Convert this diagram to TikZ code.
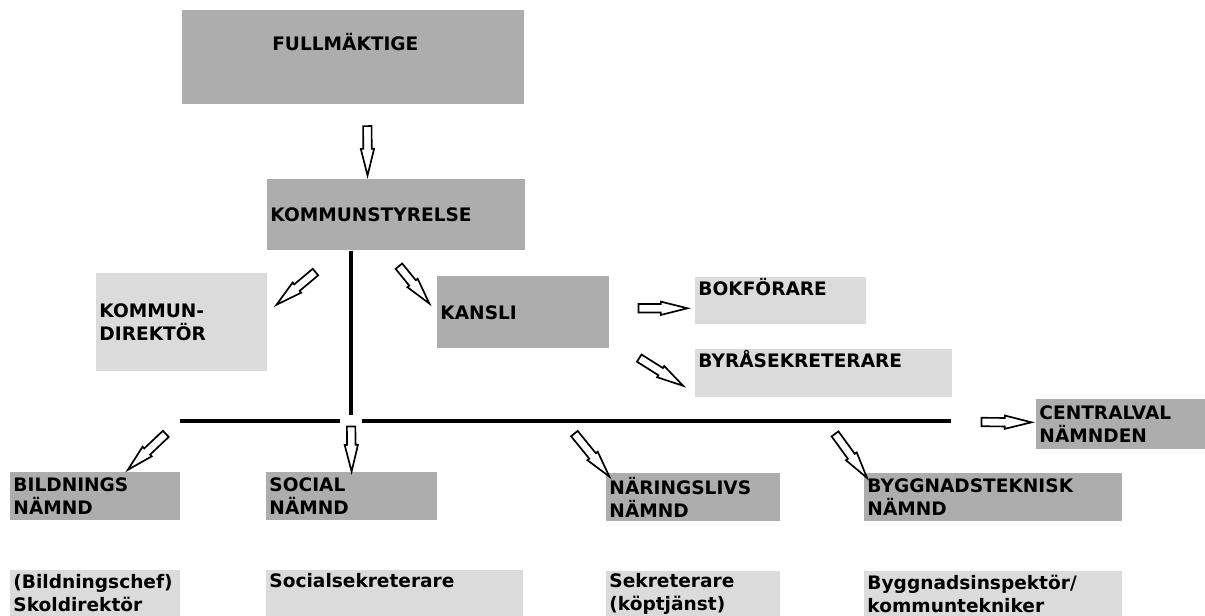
\documentclass[tikz,border=0pt]{standalone}
\usepackage{fontspec}
\setmainfont{DejaVu Sans}
\usetikzlibrary{calc,shapes.arrows}

\definecolor{dgray}{gray}{0.68}
\definecolor{lgray}{gray}{0.86}

\tikzset{
  box/.style={anchor=north west, inner xsep=0.08cm, inner ysep=0.02cm, align=left,
    font=\bfseries\fontsize{13.2pt}{16.5pt}\selectfont},
  dbox/.style={box, fill=dgray},
  lbox/.style={box, fill=lgray},
  topline/.style={text height=0.35cm, text depth=0.625cm},
  trunk/.style={line width=3.2pt},
  blockarrow/.style={single arrow, draw, fill=white, line width=1.2pt,
    inner xsep=0pt, inner ysep=0.085cm, single arrow head extend=0.06cm,
    single arrow tip angle=28, sloped, allow upside down},
  hollow/.style={to path={let \p1=($(\tikztotarget)-(\tikztostart)$), \n1={veclen(\x1,\y1)} in
    (\tikztostart) -- node[blockarrow, minimum height=\n1] {} (\tikztotarget)}}
}

\begin{document}
\begin{tikzpicture}[x=0.025cm,y=-0.025cm]
  \useasboundingbox (0,0) rectangle (1205,616);

  \node[dbox, inner xsep=2.25cm, text width=4.05cm, minimum height=2.35cm,
    text height=0.35cm, text depth=0.7cm] (full) at (182,10) {FULLMÄKTIGE};
  \node[dbox, text width=6.275cm, minimum height=1.775cm] (kstyr) at (267,179) {KOMMUNSTYRELSE};
  \node[lbox, text width=4.1cm, minimum height=2.45cm] (kdir) at (96,273) {KOMMUN-\\DIREKTÖR};
  \node[dbox, text width=4.125cm, minimum height=1.8cm] (kansli) at (437,276) {KANSLI};
  \node[lbox, topline, text width=4.1cm, minimum height=1.175cm] (bok) at (695,277) {BOKFÖRARE};
  \node[lbox, topline, text width=6.25cm, minimum height=1.2cm] (byra) at (695,349) {BYRÅSEKRETERARE};
  \node[dbox, text width=4.075cm, minimum height=1.25cm] (central) at (1036,399) {CENTRALVAL\\NÄMNDEN};

  \node[dbox, text width=4.075cm, minimum height=1.2cm] (bild) at (10,472) {BILDNINGS\\NÄMND};
  \node[dbox, text width=4.1cm, minimum height=1.2cm] (social) at (266,472) {SOCIAL\\NÄMND};
  \node[dbox, text width=4.175cm, minimum height=1.2cm] (naer) at (606,473) {NÄRINGSLIVS\\NÄMND};
  \node[dbox, text width=6.275cm, minimum height=1.2cm] (bygg) at (864,473) {BYGGNADSTEKNISK\\NÄMND};

  \node[lbox, text width=4.075cm, minimum height=1.15cm] (skol) at (10,570) {(Bildningschef)\\Skoldirektör};
  \node[lbox, topline, text width=6.25cm, minimum height=1.15cm] (socsek) at (266,570) {Socialsekreterare};
  \node[lbox, text width=4.175cm, minimum height=1.125cm] (sekr) at (606,571) {Sekreterare\\(köptjänst)};
  \node[lbox, text width=6.275cm, minimum height=1.125cm] (bygginsp) at (864,571) {Byggnadsinspektör/\\kommuntekniker};

  \coordinate (hub) at (351,421);
  \coordinate (hl) at (180,421);
  \coordinate (hr) at (951,421);

  \draw[trunk] (kstyr.south -| hub) -- ($(hub)+(0,-6)$);
  \draw[trunk] (hl) -- ($(hub)+(-11,0)$);
  \draw[trunk] ($(hub)+(11,0)$) -- (hr);

  \path ($(full.south)+(14,13)$) to[hollow] ($(kstyr.north)+(-28.5,-12)$);
  \path ($(kstyr.south west)+(55,16)$) to[hollow] ($(kdir.east)+(16,-23)$);
  \path ($(kstyr.south)+(-2.5,9)$) to[hollow] ($(kansli.north west)+(-13,21)$);
  \path ($(kansli.east)+(21,-4)$) to[hollow] ($(bok.west)+(-16,7.5)$);
  \path ($(kansli.south east)+(23,5)$) to[hollow] ($(byra.west)+(-19,8)$);
  \path ($(hr)+(22,1)$) to[hollow] ($(central.west)+(-13,-2)$);
  \path ($(hl)+(-8,7)$) to[hollow] ($(bild.north east)+(-46,-8)$);
  \path ($(hub)+(0,-3)$) to[hollow] ($(social.north)+(0,-9)$);
  \path ($(naer.north west)+(-37,-46)$) to[hollow] ($(naer.north west)+(-2,-3)$);
  \path ($(bygg.north west)+(-34,-46)$) to[hollow] ($(bygg.north west)+(-2,-2)$);
\end{tikzpicture}
\end{document}
